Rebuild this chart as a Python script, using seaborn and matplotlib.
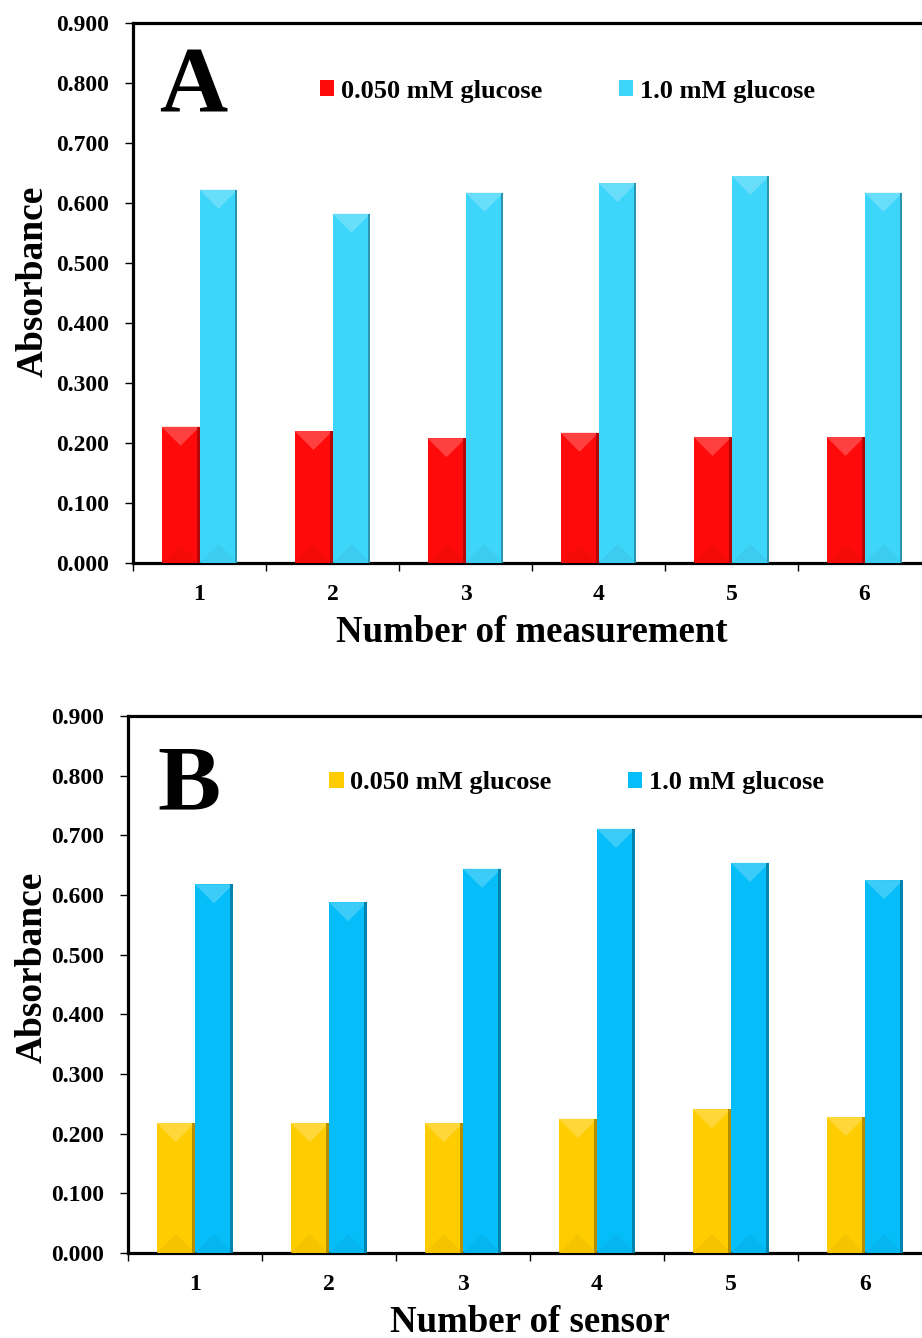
import matplotlib
matplotlib.use("Agg")
import matplotlib.pyplot as plt
from matplotlib.patches import Polygon, Patch
from matplotlib.ticker import FixedLocator, FormatStrFormatter
import numpy as np
import pandas as pd
import seaborn as sns

numbers = ["1", "2", "3", "4", "5", "6"]
series = ["0.050 mM glucose", "1.0 mM glucose"]

# panel A: repeated measurements
a_low = [0.227, 0.220, 0.208, 0.217, 0.210, 0.210]
a_high = [0.622, 0.582, 0.617, 0.633, 0.645, 0.617]

# panel B: different sensors
b_low = [0.218, 0.218, 0.218, 0.225, 0.241, 0.228]
b_high = [0.618, 0.588, 0.644, 0.711, 0.654, 0.625]

sns.set_style("white")
plt.rcParams['font.family'] = ['Liberation Serif', 'DejaVu Serif']
plt.rcParams['font.weight'] = 'bold'
plt.rcParams['axes.labelweight'] = 'bold'
plt.rcParams['text.color'] = 'black'
plt.rcParams['axes.labelcolor'] = 'black'
plt.rcParams['xtick.color'] = 'black'
plt.rcParams['ytick.color'] = 'black'


def mix(c, other, t):
    c = np.array(matplotlib.colors.to_rgb(c))
    o = np.array(matplotlib.colors.to_rgb(other))
    return tuple(c * (1 - t) + o * t)


def bevel(ax):
    # fake the beveled "3D" look of the original bars
    ylo, yhi = ax.get_ylim()
    per_px = (yhi - ylo) / ax.bbox.height
    for p in ax.patches:
        x0, w, h = p.get_x(), p.get_width(), p.get_height()
        if h <= 0:
            continue
        c = p.get_facecolor()
        wpx = ax.transData.transform((x0 + w, 0))[0] - ax.transData.transform((x0, 0))[0]
        d = wpx / 2 * per_px
        ax.add_patch(Polygon([(x0, h), (x0 + w, h), (x0 + w / 2, h - d)],
                             closed=True, fc=mix(c, "white", 0.22), ec="none", zorder=3))
        ax.add_patch(Polygon([(x0, 0), (x0 + w, 0), (x0 + w / 2, d)],
                             closed=True, fc=mix(c, "black", 0.04), ec="none", zorder=3))
        ax.add_patch(Polygon([(x0 + w * 0.93, 0), (x0 + w, 0), (x0 + w, h), (x0 + w * 0.93, h)],
                             closed=True, fc=mix(c, "black", 0.3), ec="none", zorder=3))


def panel(ax, low, high, colors, letter, xlabel, legend_xy, letter_y, ylab_xy):
    df = pd.DataFrame({
        "n": numbers * 2,
        "absorbance": low + high,
        "series": [series[0]] * len(low) + [series[1]] * len(high),
    })
    sns.barplot(data=df, x="n", y="absorbance", hue="series", palette=colors,
                width=0.57, saturation=1, linewidth=0, legend=False, ax=ax, zorder=2)
    ax.set_xlim(-0.5, 5.5)
    ax.set_ylim(0, 0.9)

    for side in ["left", "top", "bottom", "right"]:
        ax.spines[side].set_linewidth(2.3)
        ax.spines[side].set_color("black")

    ax.yaxis.set_major_locator(FixedLocator(np.arange(0, 0.91, 0.1)))
    ax.yaxis.set_major_formatter(FormatStrFormatter("%.3f"))
    ax.tick_params(axis="y", which="major", direction="out", length=6, width=1,
                   left=True, labelsize=17, pad=11)

    ax.xaxis.set_major_locator(FixedLocator(np.arange(-0.5, 6, 1)))
    ax.xaxis.set_minor_locator(FixedLocator(range(6)))
    ax.set_xticklabels([], minor=False)
    ax.set_xticklabels(numbers, minor=True)
    ax.tick_params(axis="x", which="major", direction="out", length=6, width=1, bottom=True)
    ax.tick_params(axis="x", which="minor", length=0, labelsize=17, pad=15)

    ax.set_ylabel("Absorbance", fontsize=27)
    ax.yaxis.set_label_coords(*ylab_xy)
    ax.set_xlabel(xlabel, fontsize=26.5, labelpad=7)

    ax.text(0.076, letter_y, letter, transform=ax.transAxes, ha="center", va="center",
            fontsize=68, fontweight="bold")

    handles = [Patch(fc=colors[0], ec="none"), Patch(fc=colors[1], ec="none")]
    ax.legend(handles, series, ncol=2, loc="center", bbox_to_anchor=legend_xy,
              frameon=False, handlelength=0.55, handleheight=0.55, handletextpad=0.25,
              columnspacing=2.9, prop={"size": 19, "weight": "bold"})
    bevel(ax)


fig = plt.figure(figsize=(9.22, 13.38), dpi=100)
ax_a = fig.add_axes([0.1443, 0.5792, 0.8655, 0.4036])
ax_b = fig.add_axes([0.1388, 0.0635, 0.872, 0.4013])

panel(ax_a, a_low, a_high, ["#ff0a0a", "#3dd5fa"], "A", "Number of measurement",
      (0.544, 0.874), 0.878, (-0.103, 0.522))
panel(ax_b, b_low, b_high, ["#ffcc00", "#05bdf8"], "B", "Number of sensor",
      (0.558, 0.876), 0.868, (-0.097, 0.533))

fig.savefig("out.png", dpi=100, facecolor="white")
